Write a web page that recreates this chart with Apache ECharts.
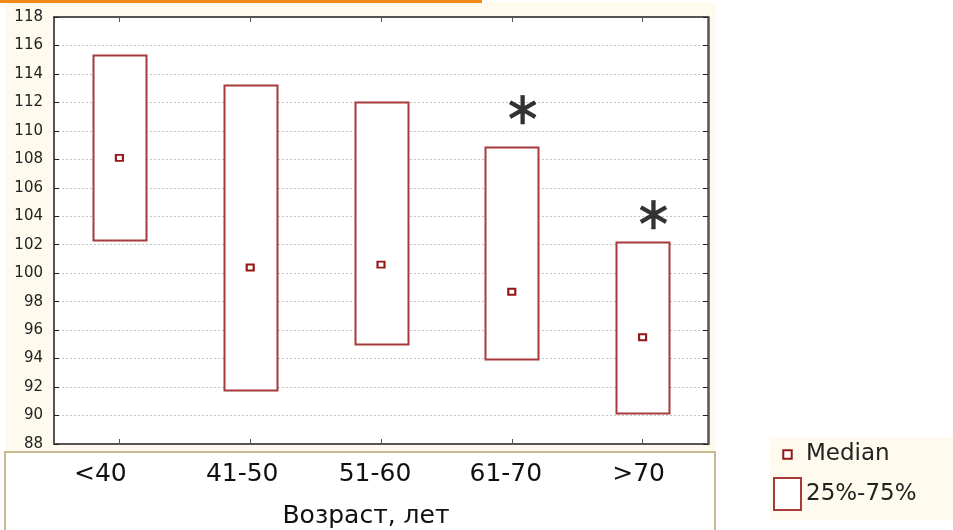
<!DOCTYPE html>
<html>
<head>
<meta charset="utf-8">
<script src="https://cdn.jsdelivr.net/npm/echarts@6/dist/echarts.min.js"></script>
<style>html,body{margin:0;padding:0;background:#fff}#c{width:953px;height:530px}</style>
</head>
<body>
<div id="c"></div>
<script>
// ---- data ----
var categories = ['<40', '41-50', '51-60', '61-70', '>70'];
var q1Values = [102.3, 91.8, 95.0, 94.0, 90.2];      // 25th percentile
var q3Values = [115.3, 113.2, 112.0, 108.9, 102.2];  // 75th percentile
var medianValues = [108.1, 100.4, 100.6, 98.7, 95.5];
var asteriskValues = [null, null, null, 111.4, 104.0]; // significance marks
var yTicks = [88, 90, 92, 94, 96, 98, 100, 102, 104, 106, 108, 110, 112, 114, 116, 118];
var xAxisTitle = 'Возраст, лет';
var legendNames = ['Median', '25%-75%'];

// ---- styles ----
var boxColor = '#a83a3a';
var medColor = '#951818';
var axisColor = '#555555';
var labelShift = [38, 16, 12, 12, 8];
var rich = {};
labelShift.forEach(function (p, i) { rich['l' + i] = { padding: [0, p, 0, 0] }; });

var boxData = categories.map(function (c, i) { return [i, q1Values[i], q3Values[i]]; });

var chart = echarts.init(document.getElementById('c'), null, { renderer: 'canvas' });
var yMin = yTicks[0], yMax = yTicks[yTicks.length - 1];
var option = {
  backgroundColor: '#ffffff',
  animation: false,
  textStyle: { fontFamily: 'DejaVu Sans' },
  graphic: [
    { type: 'rect', z: -10, shape: { x: 5, y: 2, width: 711, height: 450 }, style: { fill: '#fffaee' } },
    { type: 'rect', z: -10, shape: { x: 0, y: 0, width: 482, height: 3 }, style: { fill: '#ef8a17' } },
    { type: 'rect', z: -10, shape: { x: 5, y: 452, width: 710, height: 82 }, style: { fill: '#ffffff', stroke: '#c9b992', lineWidth: 2 } },
    { type: 'rect', z: -10, shape: { x: 770, y: 437, width: 183, height: 83 }, style: { fill: '#fffaee' } }
  ],
  grid: {
    left: 54, top: 17, right: 245, bottom: 86,
    outerBoundsMode: 'none', containLabel: false,
    show: true, backgroundColor: '#ffffff', borderWidth: 0
  },
  legend: {
    orient: 'vertical',
    left: 770, top: 437,
    padding: [3, 3, 8, 3],
    itemWidth: 27, itemHeight: 32, itemGap: 8,
    textStyle: { fontFamily: 'DejaVu Sans', fontSize: 23, color: '#222' },
    data: [
      { name: legendNames[0], icon: 'path://M0,0M32,32M11,11h10v10h-10z',
        itemStyle: { color: '#ffffff', borderColor: medColor, borderWidth: 2 } },
      { name: legendNames[1], icon: 'rect',
        itemStyle: { color: '#ffffff', borderColor: boxColor, borderWidth: 2 } }
    ]
  },
  xAxis: [
    {
      type: 'category', data: categories, position: 'bottom',
      axisLine: { show: true, lineStyle: { color: axisColor, width: 2 } },
      axisTick: { show: true, inside: true, length: 5, alignWithLabel: true, interval: 0, lineStyle: { color: axisColor } },
      axisLabel: {
        interval: 0, margin: 18, fontSize: 25, color: '#111', fontFamily: 'DejaVu Sans',
        formatter: function (v, i) { return '{l' + i + '|' + v + '}'; },
        rich: rich
      },
      splitLine: { show: false },
      name: xAxisTitle, nameLocation: 'middle', nameGap: 60,
      nameTextStyle: { fontSize: 25, color: '#111', fontFamily: 'DejaVu Sans', padding: [0, 30, 0, 0] }
    },
    {
      type: 'category', data: categories, position: 'top',
      axisLine: { show: true, lineStyle: { color: axisColor, width: 2 } },
      axisTick: { show: true, inside: true, length: 5, alignWithLabel: true, interval: 0, lineStyle: { color: axisColor } },
      axisLabel: { show: false }
    }
  ],
  yAxis: [
    {
      type: 'value', min: yMin, max: yMax, interval: 2, position: 'left',
      axisLine: { show: true, lineStyle: { color: axisColor, width: 2 } },
      axisTick: { show: true, inside: true, length: 5, lineStyle: { color: '#222' } },
      axisLabel: { margin: 11, fontSize: 15, color: '#222', fontFamily: 'DejaVu Sans' },
      splitLine: { show: true, lineStyle: { color: '#c4c4c4', width: 1, type: [2, 2] } }
    },
    {
      type: 'value', min: yMin, max: yMax, interval: 2, position: 'right',
      axisLine: { show: true, lineStyle: { color: axisColor, width: 2.5 } },
      axisTick: { show: true, inside: true, length: 5, lineStyle: { color: '#222' } },
      axisLabel: { show: false },
      splitLine: { show: false }
    }
  ],
  series: [
    {
      name: legendNames[1],
      type: 'custom',
      xAxisIndex: 0, yAxisIndex: 0,
      data: boxData,
      encode: { x: 0, y: [1, 2] },
      itemStyle: { color: '#ffffff', borderColor: boxColor, borderWidth: 2 },
      renderItem: function (params, api) {
        var idx = api.value(0);
        var lo = api.coord([idx, api.value(1)]);
        var hi = api.coord([idx, api.value(2)]);
        var w = api.size([1, 0])[0] * 0.405;
        return {
          type: 'rect',
          shape: { x: Math.round(lo[0] - w / 2) + 0.5, y: Math.round(hi[1]) + 0.5, width: Math.round(w), height: Math.round(lo[1] - hi[1]) },
          style: { fill: '#ffffff', stroke: boxColor, lineWidth: 2 }
        };
      },
      z: 3
    },
    {
      name: legendNames[0],
      type: 'scatter',
      data: medianValues,
      symbol: 'rect',
      symbolSize: [7, 6],
      itemStyle: { color: '#ffffff', borderColor: medColor, borderWidth: 2, opacity: 1 },
      z: 4
    },
    {
      name: 'significance',
      type: 'scatter',
      data: asteriskValues,
      symbolSize: 0,
      itemStyle: { color: 'transparent' },
      label: {
        show: true, position: 'inside', formatter: '\u2217',
        fontSize: 46, color: '#000', fontFamily: 'DejaVu Sans', offset: [11, 1],
        textBorderColor: '#000', textBorderWidth: 0.4
      },
      z: 5
    }
  ]
};
chart.setOption(option);
</script>
</body>
</html>
